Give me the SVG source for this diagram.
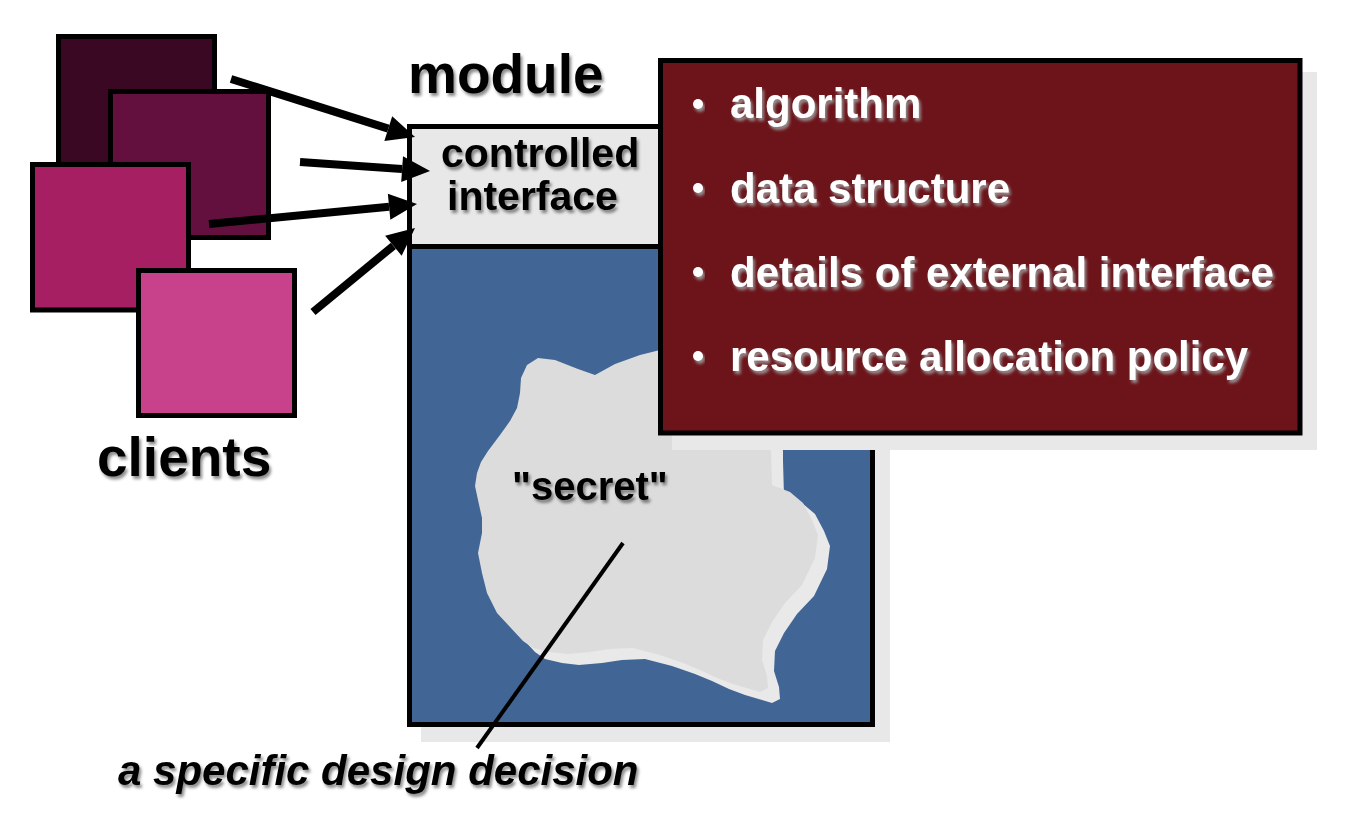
<svg xmlns="http://www.w3.org/2000/svg" width="1350" height="832" viewBox="0 0 1350 832">
  <defs>
    <style>
      .sq { stroke: #000; stroke-width: 5; }
      .lbl { font-family: "Liberation Sans", Arial, sans-serif; font-weight: bold; fill: #000; filter: url(#ts); }
      .wl { font-family: "Liberation Sans", Arial, sans-serif; font-weight: bold; font-size: 42px; fill: #fff; filter: url(#tsw); }
      .arrow { stroke: #000; stroke-width: 8; fill: none; marker-end: url(#ah); }
      .shadow { fill: #e8e8e8; }
    </style>
    <filter id="ts" x="-10%" y="-30%" width="130%" height="170%">
      <feDropShadow dx="2" dy="3" stdDeviation="1.5" flood-color="#000" flood-opacity="0.45"/>
    </filter>
    <filter id="tsw" x="-10%" y="-30%" width="130%" height="170%">
      <feDropShadow dx="2" dy="3" stdDeviation="1.5" flood-color="#9a9a9a" flood-opacity="0.9"/>
    </filter>
    <marker id="ah" markerUnits="userSpaceOnUse" markerWidth="30" markerHeight="30" viewBox="0 -15 30 30" refX="0" refY="0" orient="auto" overflow="visible">
      <path d="M0,-13 L28,0 L0,13 Z" fill="#000"/>
    </marker>
    <path id="blob" d="M520,393 L521,378 L527,365 L538,358 L555,360 L578,369 L595,375 L615,364 L640,355 L660,350 L700,345 L760,380 L771,440 L771,450 L772,485 L790,492 L803,503 L812,520 L818,535 L815,558 L802,585 L785,603 L772,622 L763,640 L762,660 L767,676 L768,688 L760,692 L750,689 L733,684 L717,678 L700,670 L683,663 L660,655 L633,648 L610,649 L590,652 L567,654 L550,652 L533,648 L523,641 L510,627 L497,613 L487,593 L482,573 L478,553 L482,533 L482,518 L478,500 L475,486 L477,473 L481,462 L488,451 L500,435 L510,421 L517,408 Z"/>
  </defs>

  <g id="clients">
    <rect class="sq" x="58.5" y="36.5" width="156" height="146" fill="#3a0822"/>
    <rect class="sq" x="110.5" y="91.5" width="158" height="146" fill="#63103f"/>
    <rect class="sq" x="32.5" y="164.5" width="156" height="145.5" fill="#a61f63"/>
    <rect class="sq" x="138.5" y="270.5" width="156" height="145" fill="#c8418b"/>
    <text class="lbl" x="97" y="476" font-size="55">clients</text>
  </g>

  <g id="module">
    <rect class="shadow" x="421" y="139" width="469" height="603"/>
    <rect x="409.5" y="126.5" width="463" height="120" fill="#e8e8e8"/>
    <rect x="409.5" y="246.5" width="463" height="478" fill="#416595"/>
    <use href="#blob" fill="#e9e9e9" transform="translate(12,11)"/>
    <use href="#blob" fill="#dcdcdc"/>
    <line x1="409.5" y1="246.5" x2="872.5" y2="246.5" stroke="#000" stroke-width="5"/>
    <rect x="409.5" y="126.5" width="463" height="598" fill="none" stroke="#000" stroke-width="5"/>
    <text class="lbl" x="408" y="93" font-size="55">module</text>
    <text class="lbl" x="441" y="167" font-size="41">controlled</text>
    <text class="lbl" x="447" y="210" font-size="41">interface</text>
    <text class="lbl" x="512" y="500" font-size="40">"secret"</text>
  </g>

  <g id="hidden-details">
    <rect class="shadow" x="672" y="72" width="645" height="378"/>
    <rect x="660.5" y="60.5" width="639.5" height="372.5" fill="#6c141a" stroke="#000" stroke-width="5"/>
    <g fill="#fff" filter="url(#tsw)">
      <circle cx="698" cy="104" r="5"/>
      <circle cx="698" cy="188" r="5"/>
      <circle cx="698" cy="272" r="5"/>
      <circle cx="698" cy="356" r="5"/>
    </g>
    <text class="wl" x="730" y="118">algorithm</text>
    <text class="wl" x="730" y="203">data structure</text>
    <text class="wl" x="730" y="287">details of external interface</text>
    <text class="wl" x="730" y="371">resource allocation policy</text>
  </g>

  <g id="decision-label">
    <text class="lbl" x="118" y="785" font-size="42" font-style="italic">a specific design decision</text>
  </g>

  <g id="connectors">
    <line class="arrow" x1="231" y1="79" x2="388.3" y2="128.6"/>
    <line class="arrow" x1="300" y1="162" x2="402.1" y2="169.1"/>
    <line class="arrow" x1="209" y1="224" x2="389.1" y2="206.7"/>
    <line class="arrow" x1="313" y1="312" x2="393.4" y2="245.8"/>
    <line x1="623" y1="543" x2="477" y2="748" stroke="#000" stroke-width="4"/>
  </g>
</svg>
